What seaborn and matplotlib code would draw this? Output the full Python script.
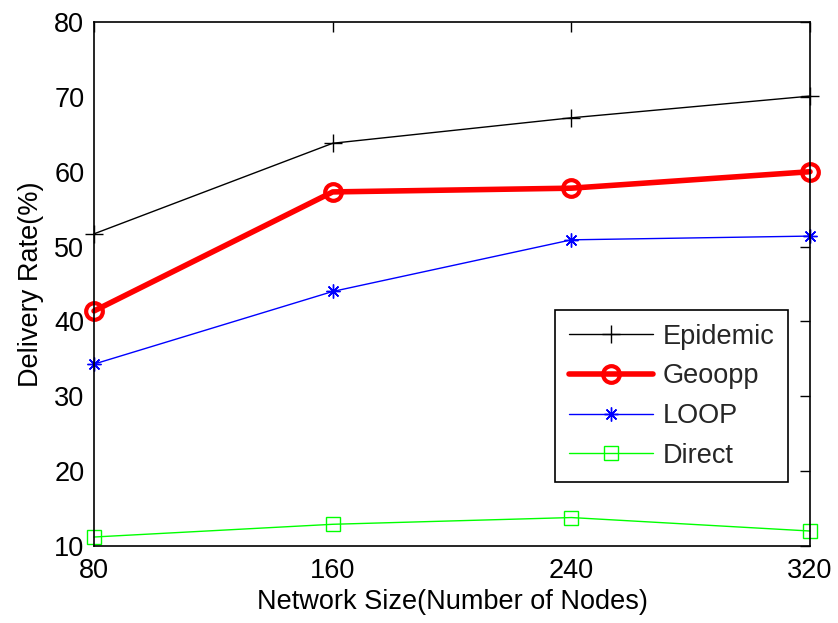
import matplotlib
matplotlib.use("Agg")
import matplotlib.pyplot as plt
import seaborn as sns

# Network sizes (number of nodes) and delivery rates (%) per protocol
network_sizes = [80, 160, 240, 320]
epidemic = [51.7, 63.8, 67.2, 70.1]
geoopp = [41.4, 57.3, 57.8, 60.0]
loop = [34.3, 44.0, 50.9, 51.4]
direct = [11.2, 12.9, 13.8, 12.0]

sns.set_theme(style="white")
plt.rcParams["font.family"] = ["Liberation Sans", "DejaVu Sans"]

FS = 19.5

fig = plt.figure(figsize=(8.38, 6.23), dpi=100)
ax = fig.add_axes([0.1122, 0.1236, 0.8544, 0.8411])

series = [
    ("Epidemic", epidemic, dict(color="black", marker="+", markersize=13, linewidth=1.0,
                               markeredgewidth=1.0)),
    ("Geoopp", geoopp, dict(color="red", marker="o", markersize=12, linewidth=4.0,
                           markeredgewidth=3.0)),
    ("LOOP", loop, dict(color="blue", marker=(8, 2, 0), markersize=10, linewidth=1.0,
                       markeredgewidth=1.0)),
    ("Direct", direct, dict(color="#00ff00", marker="s", markersize=10, linewidth=1.0,
                           markeredgewidth=1.0)),
]

for name, values, style in series:
    sns.lineplot(x=network_sizes, y=values, ax=ax, label=name,
                 markerfacecolor="none", markeredgecolor=style["color"],
                 clip_on=False, **style)

ax.set_xlim(80, 320)
ax.set_ylim(10, 80)
ax.set_xticks(network_sizes)
ax.set_yticks(range(10, 81, 10))
ax.tick_params(axis="both", which="both", direction="in", length=7, width=1.0,
               top=True, right=True, labelsize=FS, colors="black")
ax.tick_params(axis="x", pad=9)
ax.tick_params(axis="y", pad=7)
for spine in ax.spines.values():
    spine.set_visible(True)
    spine.set_color("black")
    spine.set_linewidth(1.2)

ax.set_xlabel("Network Size(Number of Nodes)", fontsize=FS, color="black", labelpad=3)
ax.set_ylabel("Delivery Rate(%)", fontsize=FS, color="black", labelpad=7)

leg = ax.legend(loc="lower right", bbox_to_anchor=(0.969, 0.122), borderaxespad=0,
                fontsize=FS, frameon=True, fancybox=False, edgecolor="black",
                framealpha=1, handlelength=3.1, handletextpad=0.37, borderpad=0.5,
                labelspacing=0.5)
leg.get_frame().set_linewidth(1.2)

fig.savefig("out.png", dpi=100, facecolor="white")
